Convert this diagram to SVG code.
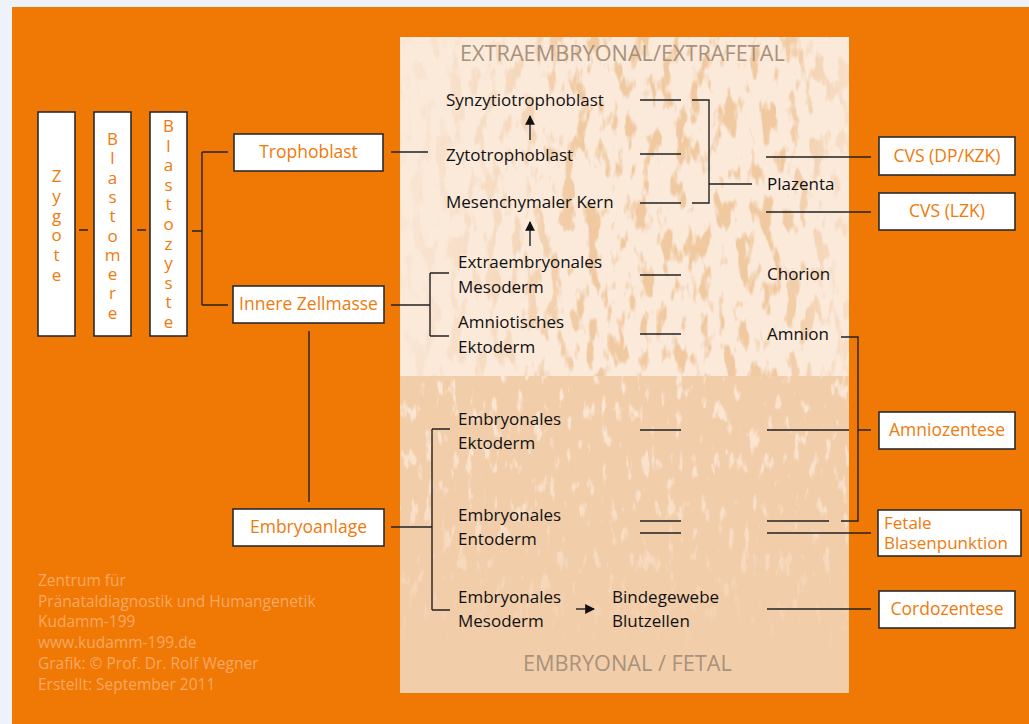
<svg xmlns="http://www.w3.org/2000/svg" width="1029" height="724" viewBox="0 0 1029 724">
<defs>
<style>
.box{fill:#fff;stroke:#2b2b2b;stroke-width:1.6}
.bt{font-family:"Open Sans","Noto Sans",sans-serif;font-size:17.5px;fill:#F07A0A}
.vt{font-family:"Open Sans","Noto Sans",sans-serif;font-size:17px;fill:#F07A0A;writing-mode:vertical-rl;text-orientation:upright}
.t{font-family:"Open Sans","Noto Sans",sans-serif;font-size:17px;fill:#111}
.hd{font-family:"Open Sans","Noto Sans",sans-serif;font-size:21.7px;fill:#A8927C}
.ft{font-family:"Open Sans","Noto Sans",sans-serif;font-size:15.5px;fill:#F7A963}
.ln{stroke:#222;stroke-width:1.4;fill:none}
</style>
<marker id="ah" viewBox="0 0 10 10" refX="9" refY="5" markerWidth="7" markerHeight="7" orient="auto"><path d="M0,0 L10,5 L0,10 z" fill="#111"/></marker>
<filter id="texU" x="400" y="37" width="449" height="339" filterUnits="userSpaceOnUse" color-interpolation-filters="sRGB">
<feTurbulence type="fractalNoise" baseFrequency="0.08 0.03" numOctaves="3" seed="7" result="n"/>
<feColorMatrix in="n" type="matrix" values="0 0 0 0 0.94  0 0 0 0 0.79  0 0 0 0 0.63  8 0 0 0 -4.25"/>
</filter>
<filter id="texL" x="400" y="376" width="449" height="317" filterUnits="userSpaceOnUse" color-interpolation-filters="sRGB">
<feTurbulence type="fractalNoise" baseFrequency="0.12 0.04" numOctaves="3" seed="11" result="n"/>
<feColorMatrix in="n" type="matrix" values="0 0 0 0 0.985  0 0 0 0 0.91  0 0 0 0 0.84  7 0 0 0 -4.2"/>
</filter>
<linearGradient id="gU" x1="400" y1="0" x2="849" y2="0" gradientUnits="userSpaceOnUse">
<stop offset="0" stop-color="#fff" stop-opacity="0.1"/>
<stop offset="0.25" stop-color="#fff" stop-opacity="0.5"/>
<stop offset="0.4" stop-color="#fff" stop-opacity="1"/>
<stop offset="0.85" stop-color="#fff" stop-opacity="1"/>
<stop offset="1" stop-color="#fff" stop-opacity="0.3"/>
</linearGradient>
<linearGradient id="gL" x1="0" y1="376" x2="0" y2="693" gradientUnits="userSpaceOnUse">
<stop offset="0" stop-color="#fff" stop-opacity="1"/>
<stop offset="0.5" stop-color="#fff" stop-opacity="0.6"/>
<stop offset="0.9" stop-color="#fff" stop-opacity="0"/>
</linearGradient>
<mask id="mU"><rect x="400" y="37" width="449" height="339" fill="url(#gU)"/></mask>
<mask id="mL"><rect x="400" y="376" width="449" height="317" fill="url(#gL)"/></mask>
</defs>
<rect x="0" y="0" width="1029" height="724" fill="#EEF3FB"/>
<rect x="12" y="7" width="1017" height="717" fill="#F07804"/>
<g id="panel">
<rect x="400" y="37" width="449" height="339" fill="#FBE9DA"/>
<rect x="400" y="376" width="449" height="317" fill="#F2CDA9"/>
<rect x="400" y="37" width="449" height="339" filter="url(#texU)" mask="url(#mU)"/>
<rect x="400" y="376" width="449" height="317" filter="url(#texL)" mask="url(#mL)"/>
<text class="hd" x="460" y="61">EXTRAEMBRYONAL/EXTRAFETAL</text>
<text class="hd" x="523" y="671">EMBRYONAL / FETAL</text>
</g>
<g id="connectors">
<path class="ln" d="M79 230 H88 M137 230 H146 M192 231 H202 M202 152 V305 M202 152 H228 M202 305 H228"/>
<path class="ln" d="M391 152 H428"/>
<path class="ln" d="M391 305 H430 M430 273 V336 M430 273 H449 M430 336 H449"/>
<path class="ln" d="M309 331 V502"/>
<path class="ln" d="M391 527 H432 M432 429 V610 M432 429 H450 M432 610 H450"/>
<path class="ln" d="M640 100 H681 M640 154 H681 M640 203 H681 M640 275 H681 M640 334 H681"/>
<path class="ln" d="M692 100 H709 V203 H692 M709 184 H752"/>
<path class="ln" d="M766 157 H871 M766 212 H871"/>
<path class="ln" d="M841 337 H858 V521 H841 M858 430 H871"/>
<path class="ln" d="M640 430 H681 M767 430 H849"/>
<path class="ln" d="M640 521 H681 M767 521 H829"/>
<path class="ln" d="M640 533 H681 M767 533 H871"/>
<path class="ln" d="M767 609 H871"/>
<path class="ln" d="M530 140 V116" marker-end="url(#ah)"/>
<path class="ln" d="M530 246 V222" marker-end="url(#ah)"/>
<path class="ln" d="M576 609 H594" marker-end="url(#ah)"/>
</g>
<g id="zygote"><rect class="box" x="38" y="112" width="37" height="224"/>
<text class="vt" x="56.5" y="164" letter-spacing="-3.2">Zygote</text></g>
<g id="blastomere"><rect class="box" x="94" y="112" width="37" height="224"/>
<text class="vt" x="112.5" y="127" letter-spacing="-3.7">Blastomere</text></g>
<g id="blastozyste"><rect class="box" x="150" y="112" width="37" height="224"/>
<text class="vt" x="168.5" y="114" letter-spacing="-3.4">Blastozyste</text></g>
<g id="trophoblast"><rect class="box" x="234" y="134" width="149" height="37"/><text class="bt" x="308.5" y="158" text-anchor="middle">Trophoblast</text></g>
<g id="innere-zellmasse"><rect class="box" x="233" y="286" width="151" height="37"/><text class="bt" x="308.5" y="310" text-anchor="middle">Innere Zellmasse</text></g>
<g id="embryoanlage"><rect class="box" x="233" y="509" width="151" height="37"/><text class="bt" x="308.5" y="533" text-anchor="middle">Embryoanlage</text></g>
<g id="synzytiotrophoblast"><text class="t" x="446" y="106">Synzytiotrophoblast</text></g>
<g id="zytotrophoblast"><text class="t" x="446" y="161">Zytotrophoblast</text></g>
<g id="mesenchymaler-kern"><text class="t" x="446" y="208">Mesenchymaler Kern</text></g>
<g id="extraembryonales-mesoderm"><text class="t" x="458" y="268">Extraembryonales</text><text class="t" x="458" y="293">Mesoderm</text></g>
<g id="amniotisches-ektoderm"><text class="t" x="458" y="328">Amniotisches</text><text class="t" x="458" y="353">Ektoderm</text></g>
<g id="embryonales-ektoderm"><text class="t" x="458" y="425">Embryonales</text><text class="t" x="458" y="449">Ektoderm</text></g>
<g id="embryonales-entoderm"><text class="t" x="458" y="521">Embryonales</text><text class="t" x="458" y="545">Entoderm</text></g>
<g id="embryonales-mesoderm"><text class="t" x="458" y="603">Embryonales</text><text class="t" x="458" y="627">Mesoderm</text></g>
<g id="bindegewebe"><text class="t" x="612" y="603">Bindegewebe</text><text class="t" x="612" y="627">Blutzellen</text></g>
<g id="plazenta"><text class="t" x="767" y="190">Plazenta</text></g>
<g id="chorion"><text class="t" x="767" y="280">Chorion</text></g>
<g id="amnion"><text class="t" x="767" y="340">Amnion</text></g>
<g id="cvs-dp"><rect class="box" x="879" y="137" width="136" height="38"/><text class="bt" x="947" y="162" text-anchor="middle">CVS (DP/KZK)</text></g>
<g id="cvs-lzk"><rect class="box" x="879" y="193" width="136" height="37"/><text class="bt" x="947" y="217" text-anchor="middle">CVS (LZK)</text></g>
<g id="amniozentese"><rect class="box" x="879" y="412" width="136" height="37"/><text class="bt" x="947" y="436" text-anchor="middle">Amniozentese</text></g>
<g id="fetale-blasenpunktion"><rect class="box" x="878" y="510" width="143" height="46"/><text class="bt" x="884" y="529" style="font-size:17px"><tspan x="884">Fetale</tspan><tspan x="884" dy="19.5">Blasenpunktion</tspan></text></g>
<g id="cordozentese"><rect class="box" x="879" y="591" width="136" height="37"/><text class="bt" x="947" y="615" text-anchor="middle">Cordozentese</text></g>
<g id="footer">
<text class="ft" x="38" y="586">Zentrum für</text>
<text class="ft" x="38" y="607">Pränataldiagnostik und Humangenetik</text>
<text class="ft" x="38" y="627">Kudamm-199</text>
<text class="ft" x="38" y="648">www.kudamm-199.de</text>
<text class="ft" x="38" y="669">Grafik: © Prof. Dr. Rolf Wegner</text>
<text class="ft" x="38" y="690">Erstellt: September 2011</text>
</g>
</svg>
